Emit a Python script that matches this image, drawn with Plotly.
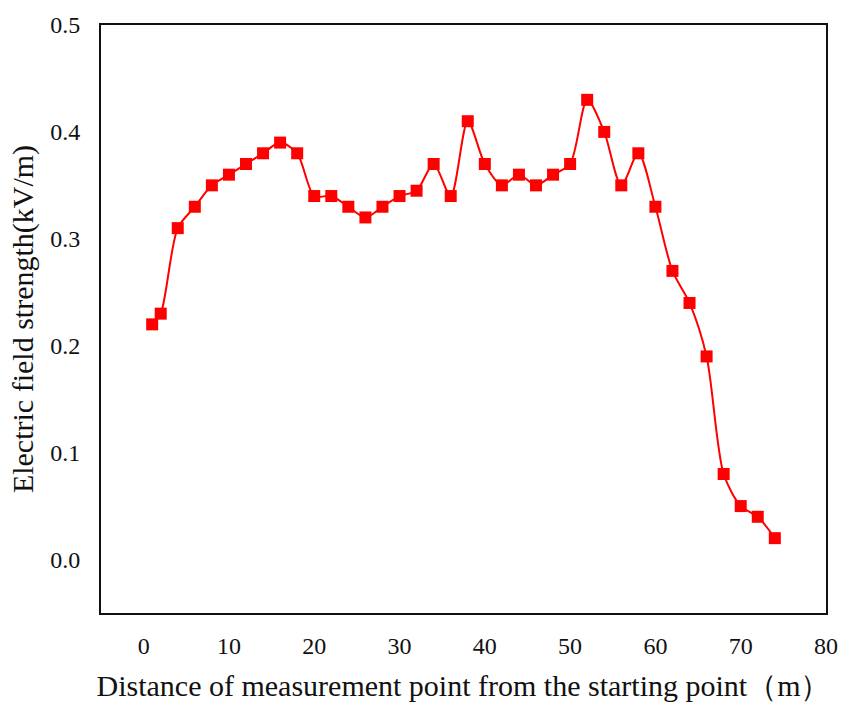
import plotly.graph_objects as go

distance = [1, 2, 4, 6, 8, 10, 12, 14, 16, 18, 20, 22, 24, 26, 28, 30, 32, 34, 36,
            38, 40, 42, 44, 46, 48, 50, 52, 54, 56, 58, 60, 62, 64, 66, 68, 70, 72, 74]
field = [0.22, 0.23, 0.31, 0.33, 0.35, 0.36, 0.37, 0.38, 0.39, 0.38, 0.34, 0.34, 0.33,
         0.32, 0.33, 0.34, 0.345, 0.37, 0.34, 0.41, 0.37, 0.35, 0.36, 0.35, 0.36, 0.37,
         0.43, 0.40, 0.35, 0.38, 0.33, 0.27, 0.24, 0.19, 0.08, 0.05, 0.04, 0.02]

x_ticks = [0, 10, 20, 30, 40, 50, 60, 70, 80]
y_ticks = [0.0, 0.1, 0.2, 0.3, 0.4, 0.5]
y_tick_labels = ["0.0", "0.1", "0.2", "0.3", "0.4", "0.5"]

font_family = "Liberation Serif, Times New Roman, serif"

fig = go.Figure()
fig.add_trace(go.Scatter(
    x=distance, y=field, mode="lines+markers",
    line=dict(color="#ff0000", width=2, shape="spline", smoothing=0.8),
    marker=dict(symbol="square", size=12, color="#ff0000"),
    showlegend=False,
))

fig.update_layout(
    width=850, height=711,
    margin=dict(l=101, r=17, t=22, b=98),
    paper_bgcolor="white", plot_bgcolor="white",
    font=dict(family=font_family, color="#111111", size=24),
)
fig.update_xaxes(
    range=[-5, 80], tickvals=x_ticks, showgrid=False, zeroline=False,
    showline=True, linecolor="#111111", linewidth=2, mirror=True,
    ticks="", ticklabelstandoff=10,
    tickfont=dict(size=24, family=font_family),
    title=dict(text="Distance of measurement point from the starting point（m）",
               font=dict(size=30, family=font_family), standoff=17),
)
fig.update_yaxes(
    range=[-0.05, 0.5], tickvals=y_ticks, ticktext=y_tick_labels,
    showgrid=False, zeroline=False,
    showline=True, linecolor="#111111", linewidth=2, mirror=True,
    ticks="", ticklabelstandoff=14,
    tickfont=dict(size=24, family=font_family),
    title=dict(text="Electric field strength(kV/m)",
               font=dict(size=30, family=font_family), standoff=8),
)

fig.write_html("out.html")
